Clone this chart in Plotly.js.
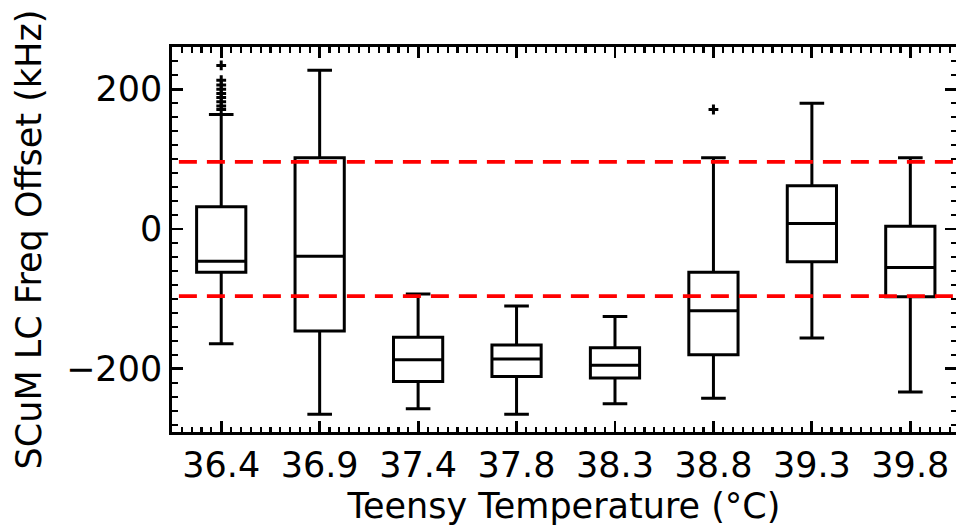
<!DOCTYPE html>
<html>
<head>
<meta charset="utf-8">
<script src="https://cdn.plot.ly/plotly-3.0.1.min.js"></script>
<style>html,body{margin:0;padding:0;background:#fff;}#chart{width:956px;height:529px;}</style>
</head>
<body>
<div id="chart"></div>
<script>
// Categories (Teensy temperature, °C)
const categories = ["36.4", "36.9", "37.4", "37.8", "38.3", "38.8", "39.3", "39.8"];
// Box statistics (kHz)
const lowerWhisker = [-164, -265, -257, -265, -250, -242, -156, -233];
const q1Values     = [-62, -146, -218, -211, -213, -180, -47, -97];
const medianValues = [-46, -39, -187, -186, -195, -117, 8, -55];
const q3Values     = [32, 102, -155, -166, -170, -62, 62, 4];
const upperWhisker = [164, 227, -93, -110, -125, 102, 180, 102];
// Outliers: category index and value
const outlierCat = [0, 0, 0, 0, 0, 0, 0, 0, 0, 5];
const outlierVal = [234, 213, 206, 200, 194, 188, 182, 176, 171, 171];
// Tolerance band (kHz)
const bandLimits = [96, -96];

const pos = categories.map((c, i) => i);

const traces = [
  {
    type: 'box',
    x: pos,
    q1: q1Values,
    median: medianValues,
    q3: q3Values,
    lowerfence: lowerWhisker,
    upperfence: upperWhisker,
    boxpoints: false,
    width: 0.5,
    whiskerwidth: 0.5,
    fillcolor: 'rgba(0,0,0,0)',
    line: {color: 'black', width: 3},
    hoverinfo: 'skip',
    showlegend: false
  },
  {
    type: 'scatter',
    mode: 'markers',
    x: outlierCat,
    y: outlierVal,
    marker: {symbol: 'cross-thin', size: 7, color: 'black', line: {color: 'black', width: 3}},
    showlegend: false,
    hoverinfo: 'skip',
    cliponaxis: false
  }
];

const shapes = bandLimits.map(v => ({
  type: 'line', xref: 'x', yref: 'y',
  x0: -0.43, x1: 7.6, y0: v, y1: v,
  line: {color: 'red', width: 3.6, dash: '18px,10px'},
  layer: 'above'
}));

const font = {family: 'DejaVu Sans', size: 35, color: 'black'};

const layout = {
  width: 956, height: 529,
  margin: {l: 171.5, r: 0, t: 46.7, b: 96.7, pad: 0},
  paper_bgcolor: 'white', plot_bgcolor: 'white',
  font: font,
  showlegend: false,
  xaxis: {
    range: [-0.5, 7.464],
    tickmode: 'array', tickvals: pos, ticktext: categories,
    ticks: 'inside', ticklen: 11, tickwidth: 2.8, tickcolor: 'black',
    minor: {ticks: 'inside', dtick: 0.1, tick0: 0, ticklen: 5.5, tickwidth: 2.2, tickcolor: 'black', showgrid: false},
    showline: true, linecolor: 'black', linewidth: 2.8, mirror: 'allticks',
    showgrid: false, zeroline: false,
    tickfont: font,
    title: {text: 'Teensy Temperature (°C)', font: font, standoff: 10}
  },
  yaxis: {
    range: [-290.4, 260.4],
    tickvals: [-200, 0, 200], ticktext: ['\u2212200', '0', '200'],
    ticks: 'inside', ticklen: 11, tickwidth: 2.8, tickcolor: 'black',
    minor: {ticks: 'inside', dtick: 20, tick0: 0, ticklen: 5.5, tickwidth: 2.2, tickcolor: 'black', showgrid: false},
    showline: true, linecolor: 'black', linewidth: 2.8, mirror: 'allticks',
    showgrid: false, zeroline: false,
    tickfont: font,
    title: {text: 'SCuM LC Freq Offset (kHz)', font: font, standoff: 14}
  },
  shapes: shapes
};

Plotly.newPlot('chart', traces, layout, {staticPlot: true, displayModeBar: false});
</script>
</body>
</html>
